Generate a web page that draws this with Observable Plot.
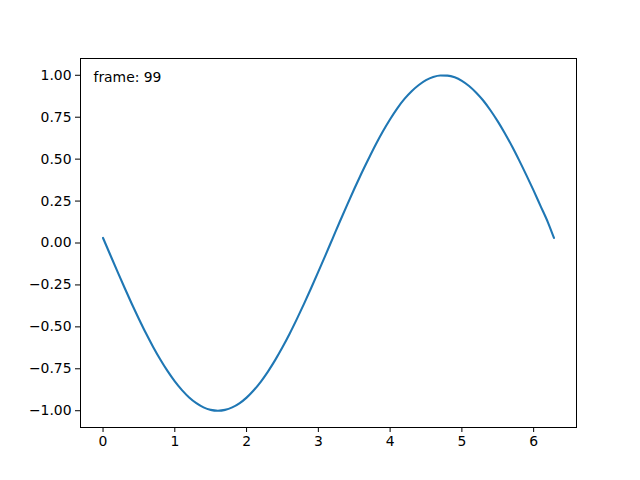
<!DOCTYPE html>
<html>
<head>
<meta charset="utf-8">
<script src="https://cdn.jsdelivr.net/npm/d3@7"></script>
<script src="https://cdn.jsdelivr.net/npm/@observablehq/plot@0.6"></script>
<style>
  html, body { margin: 0; padding: 0; background: #fff; }
  #chart { width: 640px; height: 480px; }
</style>
</head>
<body>
<div id="chart"></div>
<script>
const xValues = [0, 0.1, 0.2, 0.3, 0.4, 0.5, 0.6, 0.7, 0.8, 0.9, 1.0, 1.1, 1.2, 1.3, 1.4, 1.5, 1.6, 1.7, 1.8, 1.9, 2.0, 2.1, 2.2, 2.3, 2.4, 2.5, 2.6, 2.7, 2.8, 2.9, 3.0, 3.1, 3.2, 3.3, 3.4, 3.5, 3.6, 3.7, 3.8, 3.9, 4.0, 4.1, 4.2, 4.3, 4.4, 4.5, 4.6, 4.7, 4.8, 4.9, 5.0, 5.1, 5.2, 5.3, 5.4, 5.5, 5.6, 5.7, 5.8, 5.9, 6.0, 6.1, 6.2, 6.283];
const yValues = [0.030, -0.070, -0.169, -0.267, -0.362, -0.453, -0.540, -0.621, -0.696, -0.764, -0.825, -0.877, -0.921, -0.955, -0.980, -0.995, -1.000, -0.995, -0.980, -0.956, -0.922, -0.878, -0.826, -0.765, -0.697, -0.622, -0.541, -0.454, -0.363, -0.268, -0.171, -0.072, 0.028, 0.128, 0.226, 0.322, 0.414, 0.502, 0.587, 0.666, 0.738, 0.803, 0.859, 0.905, 0.942, 0.971, 0.990, 0.999, 0.998, 0.988, 0.967, 0.936, 0.896, 0.848, 0.790, 0.725, 0.653, 0.575, 0.491, 0.403, 0.312, 0.217, 0.122, 0.030];
const xTicks = [0, 1, 2, 3, 4, 5, 6];
const yTicks = [-1.00, -0.75, -0.50, -0.25, 0.00, 0.25, 0.50, 0.75, 1.00];
const frameLabel = "frame: 99";

const data = xValues.map((x, i) => ({x, y: yValues[i]}));

const chart = Plot.plot({
  width: 640,
  height: 480,
  marginLeft: 80,
  marginRight: 64,
  marginTop: 58,
  marginBottom: 53,
  style: {fontFamily: "DejaVu Sans", fontSize: "13.9px", color: "#000", background: "#fff"},
  x: {domain: [-0.314, 6.597], ticks: xTicks, tickFormat: d3.format("d"), tickSize: 5, tickPadding: 4, label: null},
  y: {domain: [-1.1, 1.1], ticks: yTicks, tickFormat: d3.format(".2f"), tickSize: 5, tickPadding: 4, label: null},
  marks: [
    Plot.line(data, {x: "x", y: "y", stroke: "#1f77b4", strokeWidth: 2.1, curve: "monotone-x"}),
    Plot.frame({stroke: "#000", strokeWidth: 1}),
    Plot.text([frameLabel], {text: d => d, frameAnchor: "top-left", lineAnchor: "top", textAnchor: "start", dx: 13, dy: 14, fill: "#000", fontSize: 13.9})
  ]
});
document.getElementById("chart").appendChild(chart);
</script>
</body>
</html>
